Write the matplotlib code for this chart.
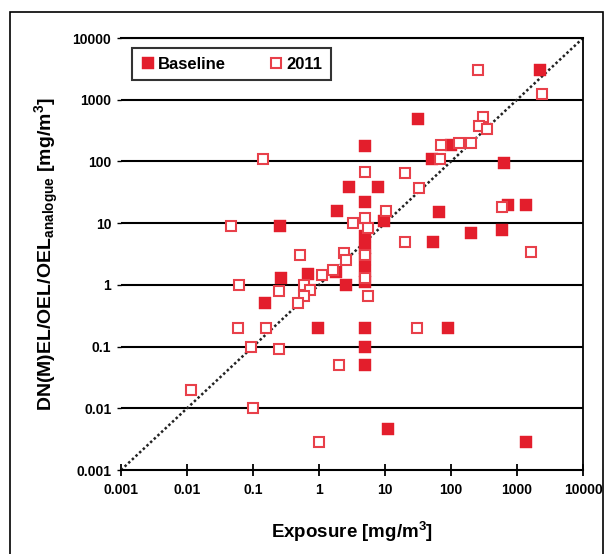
import matplotlib
matplotlib.use("Agg")
import matplotlib.pyplot as plt
from matplotlib.patches import Rectangle

plt.rcParams['font.family'] = ['Liberation Sans', 'DejaVu Sans']
plt.rcParams['font.weight'] = 'bold'
plt.rcParams['mathtext.fontset'] = 'custom'
plt.rcParams['mathtext.rm'] = 'Liberation Sans:bold'
plt.rcParams['mathtext.bf'] = 'Liberation Sans:bold'
plt.rcParams['mathtext.default'] = 'bf'

# Baseline (filled squares)
base_x = [2200, 32, 5, 100, 52, 630, 2.8, 7.7, 1.9, 0.26, 5, 9.5, 65, 54, 200, 600,
          730, 1350, 5, 5, 5, 5, 5, 0.69, 1.8, 2.6, 0.27, 0.15, 0.95, 5, 90, 5, 5,
          11, 1350]
base_y = [3000, 490, 180, 185, 110, 95, 38, 38, 16, 9, 22, 11, 15, 5, 7, 7.7,
          20, 20, 6.2, 3.9, 2.6, 1.7, 1.1, 1.5, 1.6, 1.0, 1.3, 0.5, 0.2, 0.2, 0.2, 0.1, 0.05,
          0.0047, 0.0028]

# 2011 (open squares)
y2011_x = [260, 2400, 5, 20, 310, 265, 345, 70, 130, 200, 68, 0.14, 33, 10.4, 5, 5.5,
           3.3, 0.047, 20, 1650, 600, 0.52, 2.4, 2.6, 1.1, 1.65, 0.6, 0.72, 0.6, 0.48,
           0.061, 0.245, 5, 5, 5.6, 0.06, 0.16, 30, 0.094, 0.25, 2.0, 0.0115, 0.1, 1.0]
y2011_y = [3000, 1240, 67, 65, 520, 375, 330, 185, 200, 200, 110, 110, 37, 16, 12, 8.4,
           10, 9, 5, 3.4, 18, 3, 3.3, 2.5, 1.45, 1.75, 1.0, 0.82, 0.66, 0.5,
           1.0, 0.8, 3, 1.3, 0.65, 0.2, 0.2, 0.2, 0.1, 0.093, 0.05, 0.02, 0.01, 0.0028]

ticks = [0.001, 0.01, 0.1, 1, 10, 100, 1000, 10000]
tick_labels = ['0.001', '0.01', '0.1', '1', '10', '100', '1000', '10000']

red = '#e31e2c'

fig = plt.figure(figsize=(6.08, 5.54), dpi=100)
fig.patches.append(Rectangle((0.0164, -0.01), 0.9756, 0.988, transform=fig.transFigure,
                             fill=False, edgecolor='black', linewidth=1.2))
ax = fig.add_axes([0.199, 0.1516, 0.760, 0.7798])

ax.set_xscale('log')
ax.set_yscale('log')
ax.set_xlim(0.001, 10000)
ax.set_ylim(0.001, 10000)

for t in ticks[1:]:
    ax.axhline(t, color='black', linewidth=1.5, zorder=1)

ax.plot([0.001, 10000], [0.001, 10000], color='#222222', linestyle=(0, (1, 1)),
        linewidth=1.8, zorder=2)

ax.plot(base_x, base_y, linestyle='none', marker='s', markersize=9,
        markerfacecolor=red, markeredgecolor=red, markeredgewidth=0.3,
        label='Baseline', zorder=3)
ax.plot(y2011_x, y2011_y, linestyle='none', marker='s', markersize=7.6,
        markerfacecolor='white', markeredgecolor='#e8404a', markeredgewidth=1.5,
        label='2011', zorder=4)

ax.set_xticks(ticks)
ax.set_xticklabels(tick_labels)
ax.set_yticks(ticks)
ax.set_yticklabels(tick_labels)
ax.minorticks_off()
ax.tick_params(axis='x', direction='inout', length=9, width=1.3, pad=5, labelsize=10)
ax.tick_params(axis='y', direction='out', length=3, width=1, pad=4, labelsize=10)

ax.spines['left'].set_visible(False)
ax.spines['top'].set_linewidth(1.5)
ax.spines['right'].set_linewidth(1.3)
ax.spines['bottom'].set_linewidth(1.5)

ax.set_xlabel('Exposure [mg/m$^{3}$]', fontsize=13.5, fontweight='bold', labelpad=16)
ax.set_ylabel('DN(M)EL/OEL/OEL$_{analogue}$ [mg/m$^{3}$]', fontsize=14,
              fontweight='bold', labelpad=8)

leg = ax.legend(loc='upper left', ncol=2, fontsize=12, frameon=True, fancybox=False,
                edgecolor='black', borderpad=0.5, handletextpad=0.1, columnspacing=2.5,
                handlelength=1.0, bbox_to_anchor=(0.005, 0.995))
leg.get_frame().set_linewidth(1.5)

fig.savefig('out.png', dpi=100)
